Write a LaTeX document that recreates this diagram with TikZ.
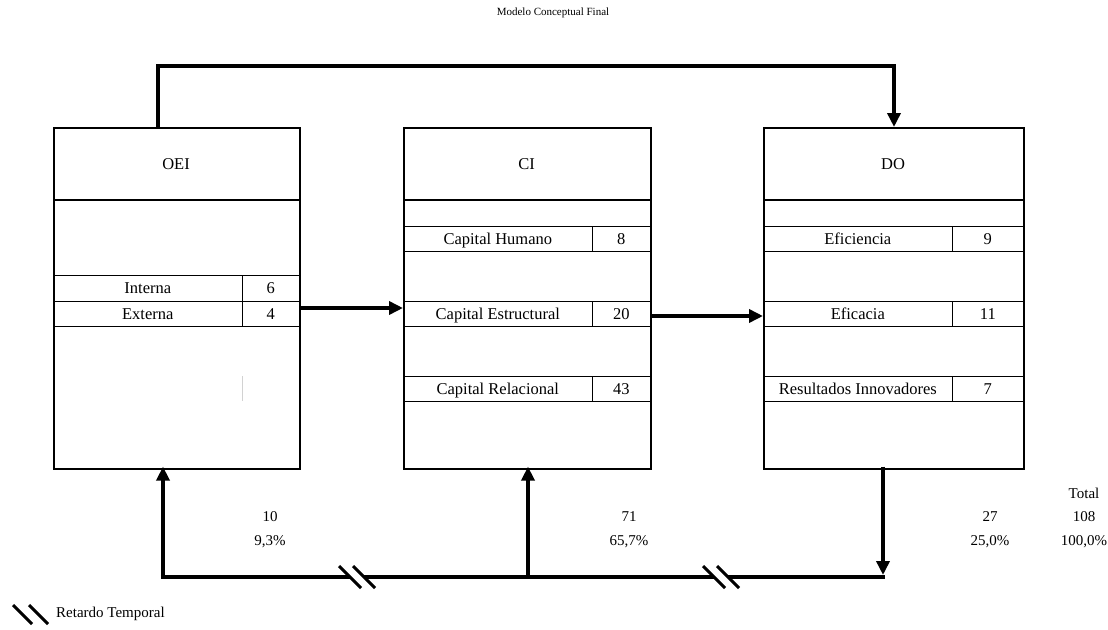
\documentclass[tikz,border=0pt]{standalone}
\usepackage{fontspec}
\setmainfont{Liberation Serif}
\usetikzlibrary{arrows.meta}
\begin{document}
\begin{tikzpicture}[x=1pt,y=-1pt,
  box/.style={draw, line width=1.6pt, minimum height=341pt, inner sep=0pt, anchor=north west},
  hdr/.style={line width=1.6pt},
  celltext/.style={font=\fontsize{16.5}{18}\selectfont, text height=11pt, text depth=0pt},
  lblcell/.style={draw, line width=0.6pt, minimum width=189pt, minimum height=25pt, inner sep=0pt, anchor=north west, celltext},
  valcell/.style={draw, line width=0.6pt, minimum width=#1, minimum height=25pt, inner sep=0pt, anchor=north west, celltext},
  title/.style={celltext},
  num/.style={font=\fontsize{15}{17}\selectfont},
  conn/.style={line width=4.5pt},
  arr/.style={conn, -{Triangle[length=14pt,width=13pt]}},
  slash/.style={line width=3pt},
  brk/.pic={
    \fill[white] (-11,-4) -- (3,-4) -- (11,4) -- (-3,4) -- cycle;
    \draw[slash] (-18,-11) -- (4,11);
    \draw[slash] (-4,-11) -- (18,11);
  }]
\useasboundingbox (0,0) rectangle (1108,629);

% heading
\node[font=\fontsize{11}{13}\selectfont] (head) at (553,13) {Modelo Conceptual Final};

% OEI block
\node[lblcell, minimum height=26pt] (int) at (53,275) {Interna};
\node[valcell=57pt, minimum height=26pt] (intv) at (242,275) {6};
\node[lblcell] (ext) at (53,301) {Externa};
\node[valcell=57pt] (extv) at (242,301) {4};
\draw[gray!35, line width=0.5pt] (242,376) -- (242,401);
\node[box, minimum width=246pt] (oei) at (53,127) {};
\draw[hdr] (oei.west |- 0,200) -- (oei.east |- 0,200);
\node[title] (oeit) at (176,164) {OEI};

% CI block
\node[lblcell] (ch) at (403,226) {Capital Humano};
\node[valcell=58pt] (chv) at (592,226) {8};
\node[lblcell] (ce) at (403,301) {Capital Estructural};
\node[valcell=58pt] (cev) at (592,301) {20};
\node[lblcell] (cr) at (403,376) {Capital Relacional};
\node[valcell=58pt] (crv) at (592,376) {43};
\node[box, minimum width=247pt] (ci) at (403,127) {};
\draw[hdr] (ci.west |- 0,200) -- (ci.east |- 0,200);
\node[title] (cit) at (526.5,164) {CI};

% DO block
\node[lblcell] (ef) at (763,226) {Eficiencia};
\node[valcell=71pt] (efv) at (952,226) {9};
\node[lblcell] (ec) at (763,301) {Eficacia};
\node[valcell=71pt] (ecv) at (952,301) {11};
\node[lblcell] (ri) at (763,376) {Resultados Innovadores};
\node[valcell=71pt] (riv) at (952,376) {7};
\node[box, minimum width=260pt] (do) at (763,127) {};
\draw[hdr] (do.west |- 0,200) -- (do.east |- 0,200);
\node[title] (dot) at (893,164) {DO};

% forward links
\draw[arr] (oei.east |- 0,308) -- (ci.west |- 0,308);
\draw[arr] (ci.east |- 0,316) -- (do.west |- 0,316);

% top link from OEI to DO
\coordinate (tl) at (158,66);
\coordinate (tr) at (894,66);
\draw[conn, -{Triangle[length=14pt,width=13pt]}] (tl |- oei.north) -- (tl) -- (tr) -- (tr |- do.north);

% bottom feedback loop
\coordinate (b1) at (163,577);
\coordinate (b2) at (528,577);
\coordinate (b3) at (883,577);
\draw[conn] ([xshift=-2.25pt]b1) -- ([xshift=2.25pt]b3);
\draw[arr] (b1) -- ([yshift=3pt]b1 |- oei.south);
\draw[arr] (b2) -- ([yshift=3pt]b2 |- ci.south);
\draw[arr] ([yshift=3pt]b3 |- do.south) -- ([yshift=2pt]b3);
\pic at (357,577) {brk};
\pic at (721,577) {brk};

% shares
\node[num] (n1) at (270,517) {10};
\node[num] (p1) at (270,542) {9,3\%};
\node[num] (n2) at (629,517) {71};
\node[num] (p2) at (629,542) {65,7\%};
\node[num] (n3) at (990,517) {27};
\node[num] (p3) at (990,542) {25,0\%};
\node[num] (tt) at (1084,493) {Total};
\node[num] (n4) at (1084,517) {108};
\node[num] (p4) at (1084,542) {100,0\%};

% legend
\draw[slash] (13,605) -- (32,624);
\draw[slash] (29,605) -- (48,624);
\node[num, anchor=west, inner sep=0pt] (leg) at (56,614) {Retardo Temporal};
\end{tikzpicture}
\end{document}
